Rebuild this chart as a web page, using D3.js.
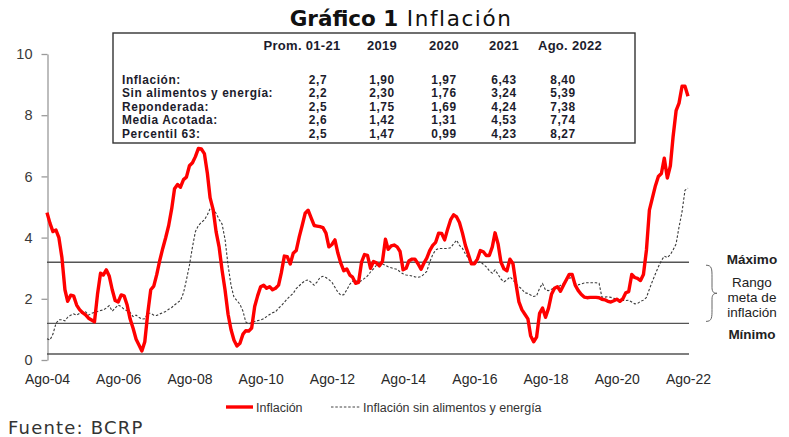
<!DOCTYPE html>
<html>
<head>
<meta charset="utf-8">
<script src="https://cdnjs.cloudflare.com/ajax/libs/d3/7.8.5/d3.min.js"></script>
<style>
  body { margin: 0; background: #fff; }
  text { font-family: 'Liberation Sans', Arial, sans-serif; }
</style>
</head>
<body>
<div class="canvas"></div>
<script>
// monthly series, Aug 2004 - Aug 2022 (12-month % change)
const startMonth = '2004-08'
const inflacion = [
  4.62, 4.27, 4.0, 4.05, 3.8, 3.15, 2.1, 1.72, 1.92, 1.9,
  1.6, 1.45, 1.35, 1.28, 1.17, 1.11, 1.05, 1.95, 2.64, 2.58,
  2.75, 2.55, 2.1, 1.75, 1.7, 1.93, 1.9, 1.6, 1.15, 0.84,
  0.48, 0.3, 0.1, 0.4, 1.35, 2.1, 2.22, 2.6, 3.05, 3.45,
  3.8, 4.2, 4.75, 5.4, 5.54, 5.45, 5.7, 5.78, 6.15, 6.25,
  6.45, 6.72, 6.7, 6.55, 5.9, 5.1, 4.72, 4.0, 3.5, 2.75,
  2.09, 1.3, 0.8, 0.45, 0.26, 0.35, 0.65, 0.76, 0.75, 0.85,
  1.55, 1.9, 2.2, 2.25, 2.15, 2.2, 2.1, 2.15, 2.25, 2.65,
  3.2, 3.18, 2.94, 3.29, 3.38, 3.83, 4.2, 4.6, 4.7, 4.45,
  4.2, 4.18, 4.16, 4.13, 3.95, 3.5, 3.58, 3.73, 3.3, 2.96,
  2.72, 2.78, 2.58, 2.51, 2.31, 2.34, 3.0, 3.25, 3.22, 2.8,
  3.02, 2.98, 2.88, 3.02, 3.75, 3.42, 3.53, 3.56, 3.5, 3.35,
  2.75, 2.8, 3.05, 3.1, 3.1, 2.95, 2.77, 2.96, 3.13, 3.38,
  3.55, 3.65, 3.95, 3.94, 3.73, 4.08, 4.38, 4.55, 4.48, 4.3,
  3.95, 3.55, 3.25, 2.95, 2.95, 3.1, 3.38, 3.34, 3.22, 3.22,
  3.5, 3.96, 3.6, 3.0, 2.78, 2.72, 3.1, 2.95, 2.3, 1.7,
  1.45, 1.3, 1.15, 0.6, 0.4, 0.55, 1.33, 1.5, 1.2, 1.5,
  1.95, 2.15, 2.2, 2.05, 2.25, 2.42, 2.6, 2.6, 2.25, 2.08,
  1.95, 1.86, 1.84, 1.85, 1.85, 1.85, 1.84, 1.79, 1.77, 1.72,
  1.7, 1.74, 1.79, 1.72, 1.8, 2.0, 2.04, 2.6, 2.5, 2.47,
  2.4, 2.6, 3.4, 4.7, 5.1, 5.5, 5.8, 5.9, 6.4, 5.75,
  6.15, 7.1, 7.95, 8.2, 8.75, 8.75, 8.42
]
const sinAlimentos = [
  0.5, 0.46, 0.65, 1.0, 1.12, 1.12, 1.08, 1.2, 1.27, 1.31,
  1.27, 1.33, 1.36, 1.38, 1.27, 1.33, 1.36, 1.39, 1.42, 1.44,
  1.5, 1.58, 1.4, 1.5, 1.6, 1.55, 1.46, 1.41, 1.36, 1.22,
  1.27, 1.2, 1.14, 1.15, 1.33, 1.33, 1.27, 1.26, 1.31, 1.35,
  1.39, 1.46, 1.52, 1.6, 1.68, 1.75, 2.0, 2.42, 2.9, 3.5,
  4.0, 4.2, 4.3, 4.38, 4.55, 4.75, 4.72, 4.6, 4.4, 4.25,
  3.75, 2.9, 2.25, 1.85, 1.75, 1.62, 1.4, 1.05, 0.98, 1.03,
  1.06, 1.09, 1.11, 1.15, 1.22, 1.29, 1.35, 1.38, 1.5, 1.58,
  1.69, 1.8, 1.9, 1.98, 2.14, 2.23, 2.32, 2.4, 2.42, 2.34,
  2.25, 2.35, 2.5, 2.54, 2.5, 2.43, 2.35, 2.18, 2.02, 1.92,
  1.94, 2.1, 2.28, 2.38, 2.41, 2.34, 2.4, 2.47, 2.55, 2.68,
  2.78, 2.9, 2.95, 2.94, 2.9, 2.85, 2.82, 2.79, 2.77, 2.68,
  2.62, 2.58, 2.57, 2.55, 2.52, 2.51, 2.53, 2.6, 2.7, 3.0,
  3.25, 3.4, 3.45, 3.45, 3.45, 3.45, 3.47, 3.6, 3.72, 3.55,
  3.45, 3.27, 3.13, 2.93, 2.94, 2.97, 3.02, 2.93, 2.85, 2.72,
  2.64, 2.75, 2.6, 2.45, 2.36, 2.42, 2.52, 2.42, 2.3, 2.2,
  2.12, 2.0, 1.98, 1.93, 1.88, 1.9, 2.15, 2.3, 2.09, 2.07,
  2.12, 2.16, 2.19, 2.24, 2.3, 2.4, 2.48, 2.5, 2.31, 2.26,
  2.29, 2.32, 2.33, 2.33, 2.33, 2.33, 2.31, 1.86, 1.86, 1.87,
  1.85, 1.82, 1.79, 1.76, 1.75, 1.75, 1.76, 1.7, 1.64, 1.65,
  1.72, 1.76, 1.85, 2.12, 2.38, 2.62, 2.85, 3.05, 3.2, 3.15,
  3.25, 3.4, 3.6, 4.15, 4.65, 5.35, 5.42
]

// table
const tableHeaders = ['Prom. 01-21', '2019', '2020', '2021', 'Ago. 2022']
const tableRows = ['Inflación:', 'Sin alimentos y energía:', 'Reponderada:', 'Media Acotada:', 'Percentil 63:']
const tableValues = [
  ['2,7', '1,90', '1,97', '6,43', '8,40'],
  ['2,2', '2,30', '1,76', '3,24', '5,39'],
  ['2,5', '1,75', '1,69', '4,24', '7,38'],
  ['2,6', '1,42', '1,31', '4,53', '7,74'],
  ['2,5', '1,47', '0,99', '4,23', '8,27']
]

// target range and ticks
const rangeMax = 3, rangeMin = 1, baseLine = 0
const yTicks = [0, 2, 4, 6, 8, 10]
const xTickYears = [2004, 2006, 2008, 2010, 2012, 2014, 2016, 2018, 2020, 2022]
const rangeLabels = ['Rango', 'meta de', 'inflación']

const svgWidth = 789, svgHeight = 437

const svg = d3.select('.canvas')
  .append('svg')
  .attr('width', svgWidth)
  .attr('height', svgHeight)

const parseMonth = d3.timeParse('%Y-%m')
const start = parseMonth(startMonth)
const months = inflacion.map((d, i) => d3.timeMonth.offset(start, i))

// scales
const x = d3.scaleTime()
  .domain([months[0], months[months.length - 1]])
  .range([47, 688])
const y = d3.scaleLinear().domain([0, 10]).range([354, 48])

// title
const title = svg.append('text')
  .attr('x', 401)
  .attr('y', 26)
  .attr('text-anchor', 'middle')
  .style('font-family', "'DejaVu Sans', sans-serif")
  .style('font-size', '21.5px')
  .attr('fill', '#111')
title.append('tspan').attr('font-weight', 'bold').text('Gráfico 1')
title.append('tspan').style('letter-spacing', '1.6px').text(' Inflación')

// y axis (the original scale labels sit a few px below the plotted grid)
const yAxisGroup = svg.append('g')
  .attr('transform', 'translate(47.5, 6)')
  .call(d3.axisLeft(y).tickValues(yTicks).tickSize(6).tickSizeOuter(0).tickPadding(9))
yAxisGroup.select('.domain').attr('stroke', '#9a9a9a').attr('stroke-width', 1.3)
yAxisGroup.selectAll('.tick line').attr('stroke', '#9a9a9a').attr('stroke-width', 1.3)
yAxisGroup.selectAll('text')
  .style('font-size', '14.5px')
  .attr('fill', '#3a3a3a')

// x axis labels
const xAxisGroup = svg.append('g')
  .attr('transform', `translate(0, ${y(0)})`)
  .call(d3.axisBottom(x)
    .tickValues(xTickYears.map(yr => new Date(yr, 7, 1)))
    .tickFormat(d => 'Ago-' + d3.timeFormat('%y')(d))
    .tickSize(0)
    .tickPadding(20))
xAxisGroup.select('.domain').remove()
xAxisGroup.selectAll('text')
  .style('font-size', '14px')
  .attr('fill', '#2a2a2a')

// range lines
svg.append('g')
  .selectAll('line')
  .data([rangeMax, rangeMin, baseLine])
  .enter()
  .append('line')
  .attr('x1', 47)
  .attr('x2', 689)
  .attr('y1', d => y(d))
  .attr('y2', d => y(d))
  .attr('stroke', '#555')
  .attr('stroke-width', 1.4)

// lines
const line = d3.line()
  .x((d, i) => x(months[i]))
  .y(d => y(d))

svg.append('path')
  .datum(sinAlimentos)
  .attr('fill', 'none')
  .attr('stroke', '#3a3a3a')
  .attr('stroke-width', 1.1)
  .attr('stroke-dasharray', '2.5,1.8')
  .attr('d', line)

svg.append('path')
  .datum(inflacion)
  .attr('fill', 'none')
  .attr('stroke', '#ff0000')
  .attr('stroke-width', 3.4)
  .attr('stroke-linejoin', 'round')
  .attr('d', line)

// table box
const table = svg.append('g')
table.append('rect')
  .attr('x', 113)
  .attr('y', 33)
  .attr('width', 522)
  .attr('height', 110)
  .attr('fill', '#fff')
  .attr('stroke', '#333')
  .attr('stroke-width', 1.4)

const headerX = [302, 382, 444, 504, 570]
const colX = [318, 382, 444, 504, 563]
const rowY = d3.scaleLinear().domain([0, 4]).range([84, 137.6])
const tableFont = '11.9px'

table.selectAll('.head')
  .data(tableHeaders)
  .enter()
  .append('text')
  .attr('x', (d, i) => headerX[i])
  .attr('y', 50)
  .attr('text-anchor', 'middle')
  .attr('font-weight', 'bold')
  .style('font-size', '13px')
  .style('letter-spacing', '0.3px')
  .attr('fill', '#1c1c2c')
  .text(d => d)

table.selectAll('.rowlabel')
  .data(tableRows)
  .enter()
  .append('text')
  .attr('x', 122)
  .attr('y', (d, i) => rowY(i))
  .attr('font-weight', 'bold')
  .style('font-size', tableFont)
  .style('letter-spacing', '0.6px')
  .attr('fill', '#1c1c2c')
  .text(d => d)

tableValues.forEach((row, r) => {
  table.selectAll('.v' + r)
    .data(row)
    .enter()
    .append('text')
    .attr('x', (d, i) => colX[i])
    .attr('y', rowY(r))
    .attr('text-anchor', 'middle')
    .attr('font-weight', 'bold')
    .style('font-size', tableFont)
    .style('letter-spacing', '0.6px')
    .attr('fill', '#1c1c2c')
    .text(d => d)
})

// target range annotation
const braceX = 706, yTop = y(rangeMax) + 3, yBot = y(rangeMin) - 2, yMid = (yTop + yBot) / 2
svg.append('path')
  .attr('d', `M${braceX},${yTop} C${braceX + 6},${yTop} ${braceX + 6},${yTop + 4} ${braceX + 6},${yTop + 12}
    L${braceX + 6},${yMid - 6} C${braceX + 6},${yMid - 1} ${braceX + 8},${yMid} ${braceX + 11},${yMid}
    C${braceX + 8},${yMid} ${braceX + 6},${yMid + 1} ${braceX + 6},${yMid + 6}
    L${braceX + 6},${yBot - 12} C${braceX + 6},${yBot - 4} ${braceX + 6},${yBot} ${braceX},${yBot}`)
  .attr('fill', 'none')
  .attr('stroke', '#666')
  .attr('stroke-width', 1)

svg.append('text')
  .attr('x', 752).attr('y', 264)
  .attr('text-anchor', 'middle')
  .attr('font-weight', 'bold')
  .style('font-size', '13.5px')
  .attr('fill', '#222')
  .text('Máximo')

svg.selectAll('.rango')
  .data(rangeLabels)
  .enter()
  .append('text')
  .attr('x', 752)
  .attr('y', (d, i) => 287 + i * 15)
  .attr('text-anchor', 'middle')
  .style('font-size', '13.5px')
  .attr('fill', '#222')
  .text(d => d)

svg.append('text')
  .attr('x', 752).attr('y', 339)
  .attr('text-anchor', 'middle')
  .attr('font-weight', 'bold')
  .style('font-size', '13.5px')
  .attr('fill', '#222')
  .text('Mínimo')

// legend
const legend = svg.append('g').attr('transform', 'translate(0, 407)')
legend.append('line')
  .attr('x1', 226).attr('x2', 253)
  .attr('stroke', '#ff0000').attr('stroke-width', 3.4)
legend.append('text')
  .attr('x', 256).attr('y', 4.5)
  .style('font-size', '12.5px').attr('fill', '#333')
  .text('Inflación')
legend.append('line')
  .attr('x1', 331).attr('x2', 360)
  .attr('stroke', '#444').attr('stroke-width', 1)
  .attr('stroke-dasharray', '2.5,1.8')
legend.append('text')
  .attr('x', 363).attr('y', 4.5)
  .style('font-size', '12.5px').attr('fill', '#333')
  .text('Inflación sin alimentos y energía')

// source
svg.append('text')
  .attr('x', 8).attr('y', 434)
  .style('font-family', "'DejaVu Sans', sans-serif")
  .style('font-size', '18px')
  .style('letter-spacing', '1.2px')
  .attr('fill', '#333')
  .text('Fuente: BCRP')
</script>
</body>
</html>
